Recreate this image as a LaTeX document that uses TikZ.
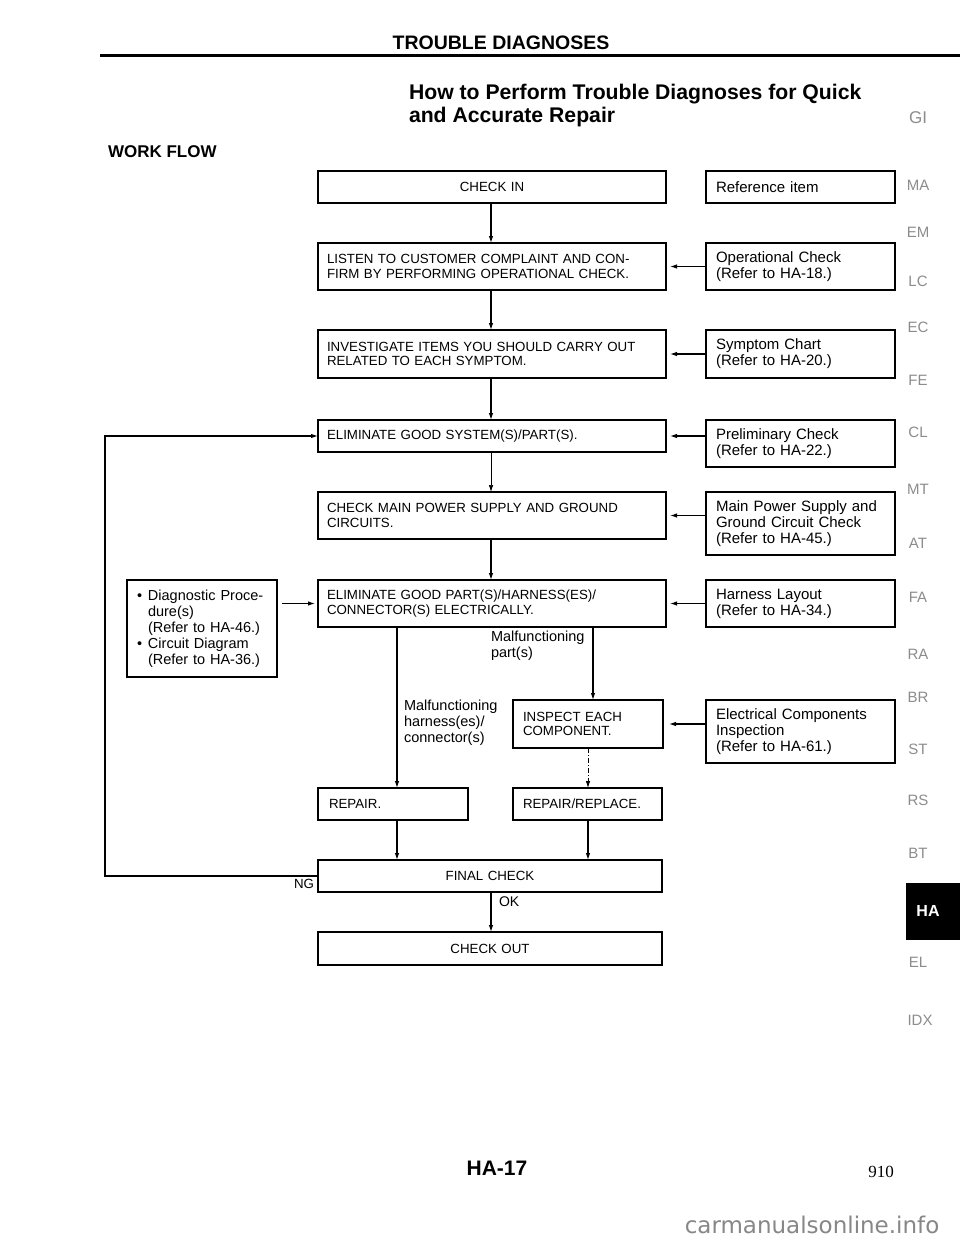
\documentclass[tikz,border=0pt]{standalone}
\usepackage{fontspec}
\setmainfont{Liberation Sans}
\newfontfamily\mySerif{Liberation Serif}
\newfontfamily\myWide{DejaVu Sans}
\usetikzlibrary{arrows.meta}
\newcommand\myCapFont{\fontsize{13.3}{14.5}\selectfont}
\newcommand\myLowFont{\fontsize{14.5}{16}\selectfont}
\newcommand\myRefFont{\fontsize{15}{16}\selectfont}
\begin{document}
\begin{tikzpicture}[x=1pt,y=-1pt,
  every node/.style={inner sep=0pt, outer sep=0pt},
  mainbox/.style={draw, line width=1.1pt, anchor=north west, inner xsep=9pt, inner ysep=0pt,
    text width=330pt, align=left, font=\myCapFont},
  refbox/.style={draw, line width=1.1pt, anchor=north west, inner xsep=10pt, inner ysep=0pt,
    text width=169pt, align=left, font=\myRefFont},
  arr/.style={line width=1.1pt, -{Latex[length=7pt,width=4.5pt]}},
  lbl/.style={font=\myLowFont, align=left},
  tab/.style={font=\fontsize{15}{15}\selectfont, text=black!45},
]
\useasboundingbox (0,0) rectangle (960,1242);
\fill[white] (0,0) rectangle (960,1242);

% header
\node[anchor=base, font=\bfseries\fontsize{19.5}{20}\selectfont] (title) at (501,49) {TROUBLE DIAGNOSES};
\draw[line width=3pt] (100,55) -- (960,55);
\node[anchor=north west, align=left, font=\bfseries\fontsize{21.2}{23}\selectfont] (subtitle) at (409,84)
  {How to Perform Trouble Diagnoses for Quick\\and Accurate Repair};
\node[anchor=base west, font=\bfseries\fontsize{17}{18}\selectfont] (workflow) at (108,157) {WORK FLOW};

% main flow
\node[mainbox, minimum height=32pt, align=center] (checkin) at (318,171) {CHECK IN};
\node[mainbox, minimum height=47pt] (listen) at (318,243) {LISTEN TO CUSTOMER COMPLAINT AND CON-\\FIRM BY PERFORMING OPERATIONAL CHECK.};
\node[mainbox, minimum height=48pt] (investigate) at (318,330) {INVESTIGATE ITEMS YOU SHOULD CARRY OUT\\RELATED TO EACH SYMPTOM.};
\node[mainbox, minimum height=32pt] (elimsys) at (318,420) {ELIMINATE GOOD SYSTEM(S)/PART(S).};
\node[mainbox, minimum height=47pt] (power) at (318,492) {CHECK MAIN POWER SUPPLY AND GROUND\\CIRCUITS.};
\node[mainbox, minimum height=47pt] (elimpart) at (318,580) {ELIMINATE GOOD PART(S)/HARNESS(ES)/\\CONNECTOR(S) ELECTRICALLY.};
\node[mainbox, inner xsep=10pt, text width=130pt, minimum height=48pt] (inspect) at (513,700) {INSPECT EACH\\COMPONENT.};
\node[mainbox, inner xsep=11pt, text width=128pt, minimum height=32pt] (repair) at (318,788) {REPAIR.};
\node[mainbox, inner xsep=10pt, text width=129pt, minimum height=32pt] (replace) at (513,788) {REPAIR/REPLACE.};
\node[mainbox, inner xsep=8pt, text width=328pt, minimum height=32pt, align=center] (final) at (318,860) {FINAL CHECK};
\node[mainbox, inner xsep=8pt, text width=328pt, minimum height=33pt, align=center] (checkout) at (318,932) {CHECK OUT};

% left box
\node[refbox, font=\myLowFont, text width=130pt, minimum height=97pt] (diag) at (127,580)
  {\makebox[11pt][l]{\textbullet}Diagnostic Proce-\\\hspace*{11pt}dure(s)\\\hspace*{11pt}(Refer to HA-46.)\\
   \makebox[11pt][l]{\textbullet}Circuit Diagram\\\hspace*{11pt}(Refer to HA-36.)};

% reference boxes
\node[refbox, minimum height=32pt] (ref) at (706,171) {Reference item};
\node[refbox, minimum height=47pt] (op) at (706,243) {Operational Check\\(Refer to HA-18.)};
\node[refbox, minimum height=48pt] (sym) at (706,330) {Symptom Chart\\(Refer to HA-20.)};
\node[refbox, minimum height=47pt] (prelim) at (706,420) {Preliminary Check\\(Refer to HA-22.)};
\node[refbox, minimum height=63pt] (mainpw) at (706,492) {Main Power Supply and\\Ground Circuit Check\\(Refer to HA-45.)};
\node[refbox, minimum height=47pt] (harness) at (706,580) {Harness Layout\\(Refer to HA-34.)};
\node[refbox, minimum height=63pt] (elec) at (706,700) {Electrical Components\\Inspection\\(Refer to HA-61.)};

% vertical connectors
\coordinate (cx) at (491,0);
\coordinate (lx) at (397,0);
\coordinate (rx) at (593,0);
\coordinate (rx2) at (588,0);
\draw[arr] (checkin.south -| cx) -- (listen.north -| cx);
\draw[arr] (listen.south -| cx) -- (investigate.north -| cx);
\draw[arr] (investigate.south -| cx) -- (elimsys.north -| cx);
\draw[arr, line width=0.7pt] (elimsys.south -| cx) -- (power.north -| cx);
\draw[arr] (power.south -| cx) -- (elimpart.north -| cx);
\draw[arr] (elimpart.south -| lx) -- (repair.north -| lx);
\draw[arr] (elimpart.south -| rx) -- (inspect.north -| rx);
\draw[arr, line width=0.8pt, dash pattern=on 5pt off 2pt on 1pt off 2pt] (inspect.south -| rx2) -- (replace.north -| rx2);
\draw[arr] (repair.south -| lx) -- (final.north -| lx);
\draw[arr] (replace.south -| rx2) -- (final.north -| rx2);
\draw[arr] (final.south -| cx) -- (checkout.north -| cx);
\node[lbl, anchor=west, font=\fontsize{14}{14}\selectfont] (ok) at (499,902) {OK};

% labels
\node[lbl, anchor=north west] (mpart) at (491,631) {Malfunctioning\\part(s)};
\node[lbl, anchor=north west] (mharn) at (404,700) {Malfunctioning\\harness(es)/\\connector(s)};

% NG loop
\coordinate (ngl) at (105,876);
\draw[arr] (final.west) -- (ngl) |- (elimsys.west);
\node[anchor=east, font=\myCapFont] (ng) at (314,884) {NG};

% left input
\draw[arr] ([xshift=5pt]diag.east |- elimpart.west) -- ([xshift=-3pt]elimpart.west);

% reference arrows
\draw[arr] (op.west |- listen.east) -- ([xshift=4pt]listen.east);
\draw[arr] (sym.west |- investigate.east) -- ([xshift=4pt]investigate.east);
\draw[arr] (prelim.west |- elimsys.east) -- ([xshift=4pt]elimsys.east);
\draw[arr] (mainpw.west |- power.east) -- ([xshift=4pt]power.east);
\draw[arr] (harness.west |- elimpart.east) -- ([xshift=4pt]elimpart.east);
\draw[arr] (elec.west |- inspect.east) -- ([xshift=6pt]inspect.east);

% side tabs
\node[tab, font=\fontsize{17}{17}\selectfont] (tGI) at (918,118) {GI};
\node[tab] (tMA) at (918,185) {MA};
\node[tab] (tEM) at (918,232) {EM};
\node[tab] (tLC) at (918,281) {LC};
\node[tab] (tEC) at (918,327) {EC};
\node[tab] (tFE) at (918,380) {FE};
\node[tab] (tCL) at (918,432) {CL};
\node[tab] (tMT) at (918,489) {MT};
\node[tab] (tAT) at (918,543) {AT};
\node[tab] (tFA) at (918,597) {FA};
\node[tab] (tRA) at (918,654) {RA};
\node[tab] (tBR) at (918,697) {BR};
\node[tab] (tST) at (918,749) {ST};
\node[tab] (tRS) at (918,800) {RS};
\node[tab] (tBT) at (918,853) {BT};
\fill[black] (906,883) rectangle (960,940);
\node[font=\bfseries\fontsize{16}{16}\selectfont, text=white] (tHA) at (928,911) {HA};
\node[tab] (tEL) at (918,962) {EL};
\node[tab] (tIDX) at (920,1020) {IDX};

% footer
\node[anchor=base, font=\bfseries\fontsize{21}{22}\selectfont] (page) at (497,1175) {HA-17};
\node[anchor=base, font=\mySerif\fontsize{17}{18}\selectfont] (num) at (881,1177) {910};
\node[anchor=base, font=\myWide\fontsize{23}{24}\selectfont, text=black!47] (wm) at (812,1233) {carmanualsonline.info};
\end{tikzpicture}
\end{document}
